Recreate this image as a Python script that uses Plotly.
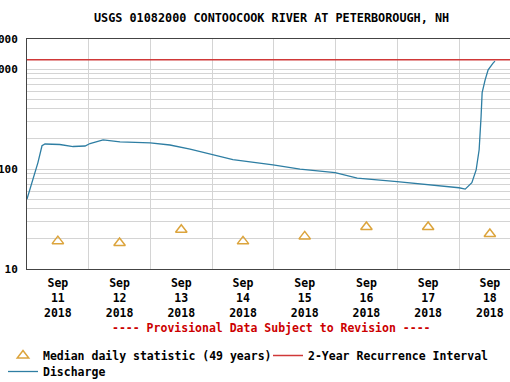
import plotly.graph_objects as go

TITLE = "USGS 01082000 CONTOOCOOK RIVER AT PETERBOROUGH, NH"
NOTE = "---- Provisional Data Subject to Revision ----"

discharge_time = [
    "2018-09-11 00:00", "2018-09-11 02:20", "2018-09-11 04:15", "2018-09-11 05:50",
    "2018-09-11 07:00", "2018-09-11 12:45", "2018-09-11 17:55", "2018-09-11 22:35",
    "2018-09-12 00:30", "2018-09-12 05:35", "2018-09-12 12:10", "2018-09-12 23:55",
    "2018-09-13 07:35", "2018-09-13 15:25", "2018-09-14 00:00", "2018-09-14 08:05",
    "2018-09-14 23:40", "2018-09-15 10:10", "2018-09-15 23:50", "2018-09-16 08:25",
    "2018-09-16 23:55", "2018-09-17 10:00", "2018-09-17 20:35", "2018-09-18 00:00",
    "2018-09-18 02:25", "2018-09-18 05:00", "2018-09-18 06:40", "2018-09-18 07:50",
    "2018-09-18 08:35", "2018-09-18 09:00", "2018-09-18 10:10", "2018-09-18 11:20",
    "2018-09-18 13:15", "2018-09-18 14:00",
]
discharge_cfs = [
    50, 78, 116, 171,
    178, 176, 168, 170,
    180, 196, 187, 183,
    174, 158, 139, 124,
    110, 100, 92, 81,
    75, 71, 67, 65,
    63, 73, 98, 156,
    333, 581, 781, 983,
    1148, 1202,
]

median_time = [
    "2018-09-11 12:00", "2018-09-12 12:00", "2018-09-13 12:00", "2018-09-14 12:00",
    "2018-09-15 12:00", "2018-09-16 12:00", "2018-09-17 12:00", "2018-09-18 12:00",
]
median_cfs = [19.0, 18.2, 24.7, 18.9, 21.2, 26.3, 26.3, 22.4]

recurrence_2yr = 1240

day_labels = ["Sep<br>%d<br>2018" % d for d in range(11, 19)]
day_bounds = ["2018-09-%02d 00:00" % d for d in range(12, 19)]
x_range = ["2018-09-11 00:00", "2018-09-18 19:50"]

y_grid = [10, 20, 30, 40, 50, 60, 70, 80, 90,
          100, 200, 300, 400, 500, 600, 700, 800, 900,
          1000, 2000]
y_labels = ["10", "", "", "", "", "", "", "", "",
            "100", "", "", "", "", "", "", "", "",
            "1000", "2000"]

FONT = "DejaVu Sans Mono"
LEG_FONT = dict(family=FONT, size=11.5, color="black", weight="bold")

fig = go.Figure()
fig.add_trace(go.Scatter(
    x=median_time, y=median_cfs, mode="markers",
    name="Median daily statistic (49 years)", legend="legend",
    marker=dict(symbol="triangle-up-open", size=10, color="#DCA43C",
                line=dict(width=1.5, color="#DCA43C")),
))
fig.add_trace(go.Scatter(
    x=x_range, y=[recurrence_2yr, recurrence_2yr], mode="lines",
    name="2-Year Recurrence Interval", legend="legend3",
    line=dict(color="#D03838", width=1.5),
))
fig.add_trace(go.Scatter(
    x=discharge_time, y=discharge_cfs, mode="lines",
    name="Discharge", legend="legend2",
    line=dict(color="#2E7EA3", width=1.3),
))


def leg(x_px, top_px):
    return dict(orientation="h", x=x_px / 510, xref="container", xanchor="left",
                y=1 - top_px / 382, yref="container", yanchor="top",
                font=LEG_FONT, bgcolor="rgba(0,0,0,0)")


fig.update_layout(
    width=510, height=382,
    margin=dict(l=27, r=0, t=39, b=113, autoexpand=False),
    paper_bgcolor="white", plot_bgcolor="white",
    font=dict(family=FONT, size=11, color="black", weight="bold"),
    showlegend=True,
    legend=leg(3, 341),
    legend3=leg(268, 341),
    legend2=leg(3, 357),
    annotations=[
        dict(text=TITLE, xref="paper", yref="paper", x=0.507, y=(269 - 18) / 230,
             xanchor="center", yanchor="middle", showarrow=False,
             font=dict(family=FONT, size=11.8, color="black", weight="bold")),
        dict(text=NOTE, xref="paper", yref="paper", x=0.507, y=(269 - 328) / 230,
             xanchor="center", yanchor="middle", showarrow=False,
             font=dict(family=FONT, size=11.5, color="#CC0000", weight="bold")),
    ],
)

fig.update_xaxes(
    type="date", range=x_range, automargin=False,
    tickvals=median_time, ticktext=day_labels, ticks="", tickangle=0,
    showgrid=False, showline=True, linecolor="#444", linewidth=1, mirror=True,
    minor=dict(tickvals=day_bounds, showgrid=True, gridcolor="#d4d4d4", gridwidth=1, ticks=""),
    tickfont=dict(family=FONT, size=11.5, color="black", weight="bold"),
    ticklabelstandoff=3, zeroline=False,
)
fig.update_yaxes(
    type="log", range=[1, 3.30103], automargin=False,
    tickvals=y_grid, ticktext=y_labels, ticks="",
    showgrid=True, gridcolor="#d4d4d4", gridwidth=1,
    showline=True, linecolor="#444", linewidth=1, mirror=False,
    tickfont=dict(family=FONT, size=11, color="black", weight="bold"),
    ticklabelstandoff=6, zeroline=False,
)

fig.write_html("out.html", config={"displayModeBar": False},
               post_script="document.body.style.margin='0';")
